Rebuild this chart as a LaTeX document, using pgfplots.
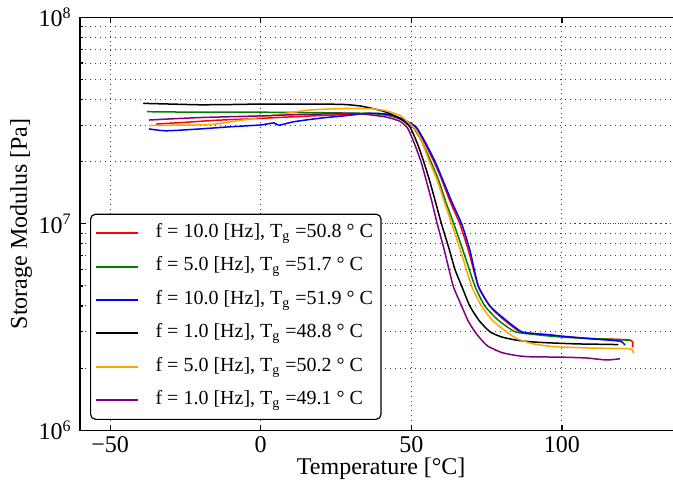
\documentclass[12pt,border=0pt]{standalone}
\usepackage{fontspec}
\setmainfont{Liberation Serif}
\usepackage{pgfplots}
\pgfplotsset{compat=1.18}
\definecolor{mplgreen}{rgb}{0,0.5,0}
\definecolor{mplorange}{RGB}{255,165,0}
\definecolor{mplpurple}{RGB}{128,0,128}

\begin{document}
\begin{tikzpicture}
\begin{axis}[
    scale only axis, width=301.2pt, height=206.5pt,
    xmin=-60, xmax=140, ymode=log, ymin=1e6, ymax=1e8,
    xtick={-50,0,50,100}, xticklabels={−50,0,50,100},
    ytick={1e6,1e7,1e8},
    yticklabels={10\textsuperscript{6},10\textsuperscript{7},10\textsuperscript{8}},
    tick align=inside, major tick length=2.8pt, minor tick length=1.5pt,
    every tick/.style={black, line width=0.6pt},
    xmajorgrids, ymajorgrids, yminorgrids,
    grid style={dotted, line width=0.5pt, black!75},
    minor grid style={dotted, line width=0.5pt, black!75},
    axis line style={line width=0.6pt},
    xticklabel style={yshift=1pt},
    xlabel={Temperature [°C]}, ylabel={Storage Modulus [Pa]},
    every axis x label/.style={at={(axis description cs:0.5,-0.106)}, anchor=base},
    every axis y label/.style={at={(axis description cs:-0.088,0.5)}, rotate=90, anchor=base},
    legend style={at={(axis description cs:0.0166,0.025)}, anchor=south west,
        draw=black, line width=0.6pt, rounded corners=2.5pt,
        font=\fontsize{10}{12}\selectfont, inner xsep=2pt, inner ysep=1.2pt,
        nodes={text height=7.5pt, text depth=3.2pt, inner ysep=3pt},
        /tikz/every odd column/.append style={column sep=6.5pt}},
    legend cell align=left,
    legend image code/.code={\draw[#1, line width=1pt, rounded corners=0pt] (0pt,0pt) -- (21pt,0pt);},
    every axis plot/.append style={line width=0.75pt, no markers, smooth, tension=0.35},
]
% f = 10.0 Hz, Tg = 50.8
\addplot[red] coordinates {
(-34.7,3.04e7)(-25,3.1e7)(-15,3.17e7)(0,3.24e7)(15,3.32e7)(32.6,3.4e7)(37,3.42e7)
(40,3.4e7)(44,3.3e7)(48,3.15e7)(51.2,2.95e7)(54.2,2.5e7)(57.5,2.0e7)(60,1.65e7)
(63,1.27e7)(66.1,1.0e7)(69,7.4e6)(72.2,5.0e6)(76,4.0e6)(80,3.5e6)(86,3.0e6)
(90,2.95e6)(95,2.9e6)(100.4,2.85e6)(110,2.78e6)(122.8,2.73e6)(123.4,2.52e6)
};
\addlegendentry{f = 10.0 [Hz], T\textsubscript{g} =50.8 ° C}
% f = 5.0 Hz, Tg = 51.7
\addplot[mplgreen] coordinates {
(-37.8,3.49e7)(-30,3.48e7)(-20,3.47e7)(0,3.47e7)(20,3.45e7)(32.6,3.43e7)(36.2,3.43e7)
(40,3.38e7)(43,3.34e7)(46.5,3.22e7)(50.5,2.95e7)(53.5,2.5e7)(56.5,2.0e7)(58.9,1.65e7)
(61.5,1.27e7)(64.1,1.0e7)(67.2,7.4e6)(71.1,5.0e6)(74.4,4.0e6)(79,3.4e6)(84.4,3.0e6)
(90,2.92e6)(96,2.86e6)(105,2.8e6)(115,2.76e6)(122.6,2.73e6)
};
\addlegendentry{f = 5.0 [Hz], T\textsubscript{g} =51.7 ° C}
% f = 10.0 Hz, Tg = 51.9
\addplot[blue] coordinates {
(-37.1,2.88e7)(-31.4,2.82e7)(-20,2.88e7)(-10,2.95e7)(0,3.01e7)(4.4,3.08e7)(6,3.0e7)
(11,3.12e7)(20,3.25e7)(27.5,3.33e7)(33,3.40e7)(38,3.43e7)(43,3.38e7)(47,3.22e7)
(51.5,2.95e7)(54.5,2.5e7)(57.9,2.0e7)(60.3,1.65e7)(63.5,1.27e7)(66.7,1.0e7)(69.5,7.4e6)
(72.2,5.0e6)(76.1,4.0e6)(80.5,3.5e6)(86.6,3.0e6)(92,2.93e6)(96,2.9e6)(100.4,2.85e6)
(110,2.77e6)(119.3,2.7e6)(120.9,2.58e6)
};
\addlegendentry{f = 10.0 [Hz], T\textsubscript{g} =51.9 ° C}
% f = 1.0 Hz, Tg = 48.8
\addplot[black] coordinates {
(-39,3.83e7)(-30,3.80e7)(-20,3.77e7)(-10,3.78e7)(0,3.80e7)(10,3.80e7)(20,3.80e7)
(28,3.78e7)(33,3.72e7)(37,3.62e7)(41,3.50e7)(44,3.36e7)(47,3.18e7)(49.5,2.95e7)
(52,2.45e7)(54.1,2.0e7)(55.9,1.65e7)(58,1.28e7)(60,1.0e7)(62.5,7.6e6)(64.5,6.0e6)
(66.7,5.0e6)(69.4,4.0e6)(72.5,3.4e6)(76.1,3.0e6)(80,2.83e6)(85,2.73e6)(90,2.68e6)
(96,2.65e6)(105,2.62e6)(112,2.61e6)(118.7,2.6e6)
};
\addlegendentry{f = 1.0 [Hz], T\textsubscript{g} =48.8 ° C}
% f = 5.0 Hz, Tg = 50.2
\addplot[mplorange] coordinates {
(-37.1,2.99e7)(-30,3.0e7)(-17,3.02e7)(-8,3.15e7)(0,3.28e7)(8,3.42e7)(16.6,3.56e7)
(28.5,3.62e7)(36.2,3.61e7)(40,3.56e7)(43,3.48e7)(46.5,3.33e7)(49.5,3.05e7)(51.5,2.85e7)
(53.5,2.5e7)(56,2.0e7)(58.4,1.65e7)(61,1.27e7)(63.4,1.0e7)(66.5,7.3e6)(70,5.0e6)
(73.3,4.0e6)(77,3.4e6)(81.6,3.0e6)(85,2.78e6)(90,2.63e6)(96,2.55e6)(100.4,2.53e6)
(110,2.5e6)(122.6,2.48e6)(123.7,2.35e6)
};
\addlegendentry{f = 5.0 [Hz], T\textsubscript{g} =50.2 ° C}
% f = 1.0 Hz, Tg = 49.1
\addplot[mplpurple] coordinates {
(-37.1,3.18e7)(-30,3.22e7)(-20,3.27e7)(-10,3.30e7)(0,3.33e7)(10,3.37e7)(20,3.40e7)
(27,3.43e7)(33,3.41e7)(37,3.36e7)(41,3.30e7)(44,3.22e7)(46.5,3.12e7)(48.8,2.9e7)
(51,2.45e7)(53.2,2.0e7)(54.8,1.65e7)(56.7,1.3e7)(58.6,1.0e7)(61,7.4e6)(63.9,5.0e6)
(66.7,4.0e6)(68.8,3.4e6)(71.1,3.0e6)(73.2,2.75e6)(75.5,2.55e6)(80,2.38e6)(85,2.3e6)
(89.4,2.27e6)(100,2.26e6)(108,2.24e6)(114.8,2.19e6)(119.3,2.22e6)
};
\addlegendentry{f = 1.0 [Hz], T\textsubscript{g} =49.1 ° C}
\end{axis}
\pgfresetboundingbox
\path[use as bounding box] ([xshift=-40pt,yshift=-27.35pt]current axis.south west)
    rectangle ([xshift=296.5pt,yshift=8.65pt]current axis.north west);
\end{tikzpicture}
\end{document}
